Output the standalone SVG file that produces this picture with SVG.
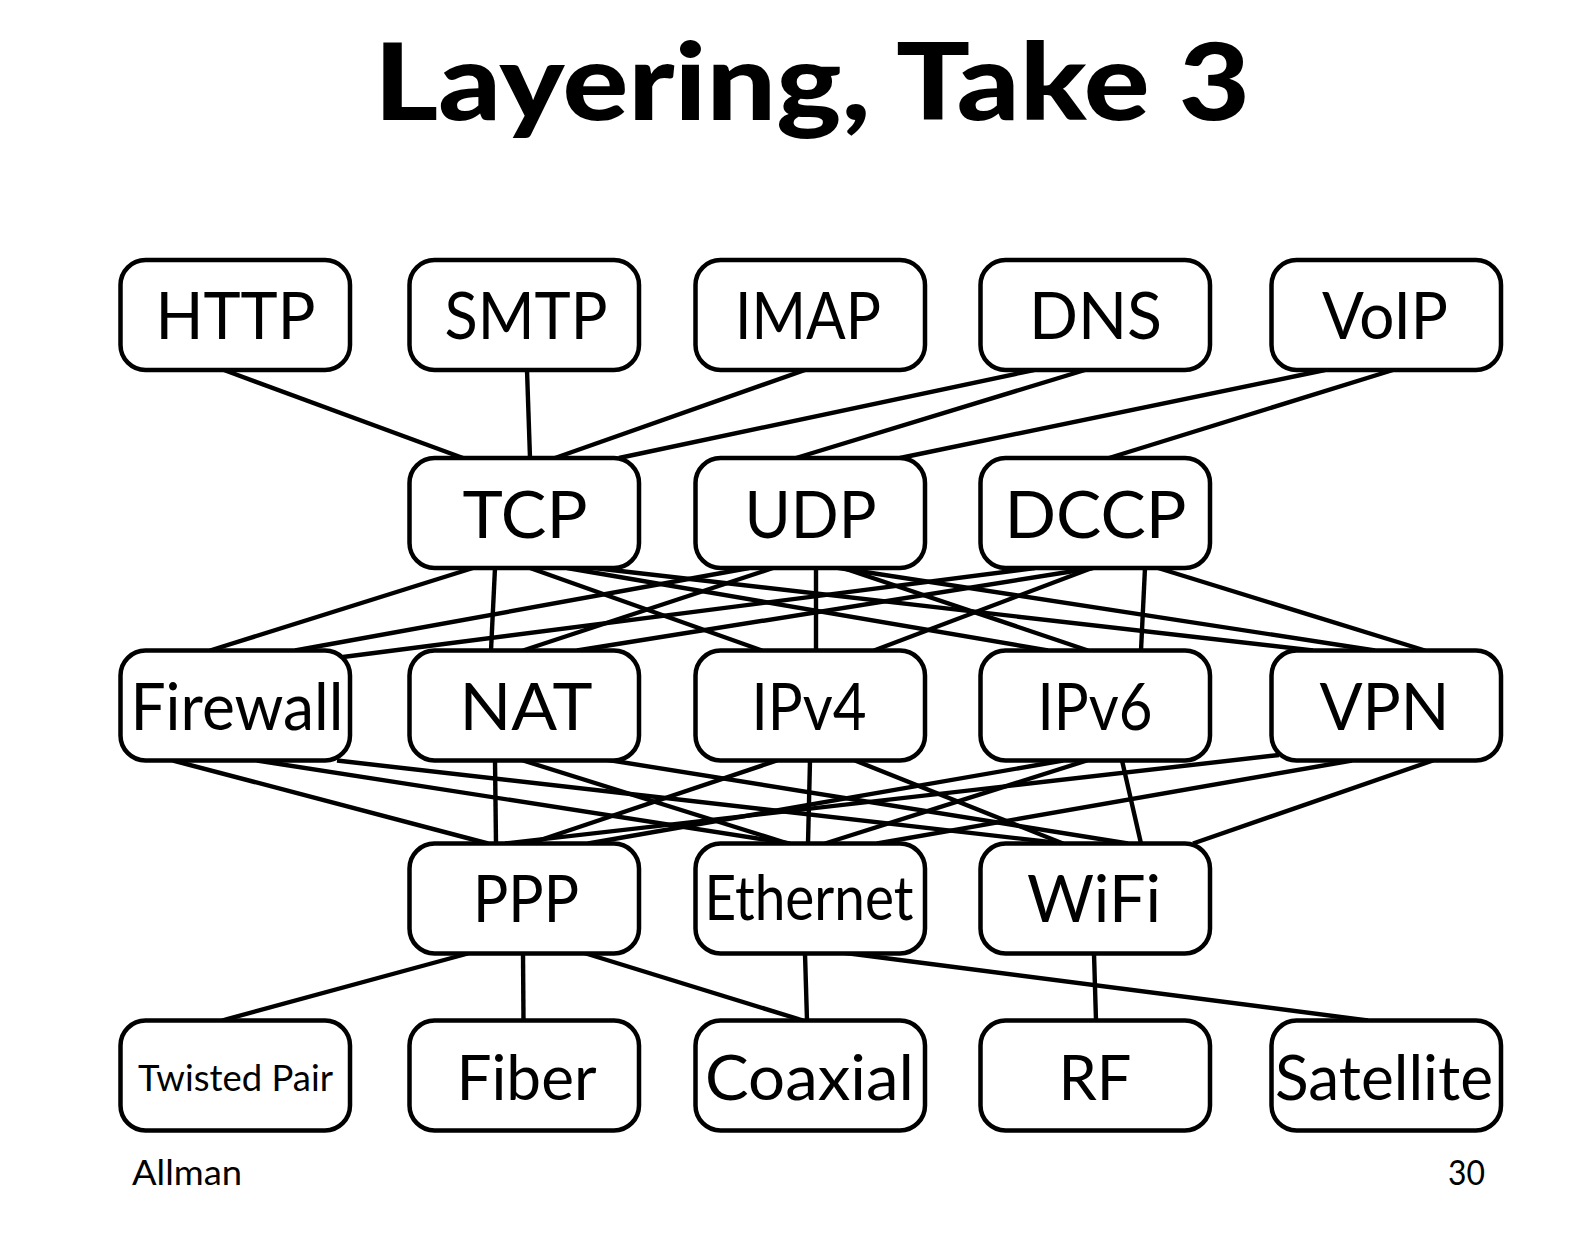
<svg xmlns="http://www.w3.org/2000/svg" width="1584" height="1238" viewBox="0 0 1584 1238">
<style>
  .box { fill: #ffffff; stroke: #000000; stroke-width: 4.5; }
  .lbl { font-family: Lato, "Open Sans", "Liberation Sans", sans-serif; font-size: 66px; fill: #000; text-anchor: middle; }
  .conn line { stroke: #000000; stroke-width: 4.4; stroke-linecap: butt; }
  .title { font-family: Lato, "Liberation Sans", sans-serif; font-weight: 900; font-size: 106px; fill: #000; }
  .foot { font-family: Lato, "Liberation Sans", sans-serif; font-size: 35px; fill: #000; }
</style>
<rect x="0" y="0" width="1584" height="1238" fill="#ffffff"/>
<text class="title" x="374" y="120" textLength="876" lengthAdjust="spacingAndGlyphs">Layering, Take 3</text>

<g id="connectors" class="conn">
  <!-- application to transport -->
  <line x1="224" y1="370" x2="463" y2="458"/>
  <line x1="527" y1="370" x2="530" y2="458"/>
  <line x1="805" y1="370" x2="555" y2="458"/>
  <line x1="1034" y1="370" x2="619" y2="458"/>
  <line x1="1085" y1="370" x2="796" y2="458"/>
  <line x1="1325" y1="370" x2="900" y2="458"/>
  <line x1="1393" y1="370" x2="1109" y2="458"/>
  <!-- transport to network -->
  <line x1="473" y1="568" x2="210" y2="650.5"/>
  <line x1="495" y1="568" x2="491" y2="650.5"/>
  <line x1="530" y1="568" x2="762" y2="650.5"/>
  <line x1="567" y1="568" x2="1048" y2="650.5"/>
  <line x1="594" y1="568" x2="1313" y2="650.5"/>
  <line x1="749" y1="568" x2="295" y2="650.5"/>
  <line x1="773" y1="568" x2="523" y2="650.5"/>
  <line x1="816" y1="568" x2="816" y2="650.5"/>
  <line x1="843" y1="568" x2="1088" y2="650.5"/>
  <line x1="826" y1="566" x2="1375" y2="650.5"/>
  <line x1="1035" y1="568" x2="343" y2="657"/>
  <line x1="1093" y1="568" x2="577" y2="650.5"/>
  <line x1="1092" y1="568" x2="874" y2="650.5"/>
  <line x1="1145" y1="568" x2="1141" y2="650.5"/>
  <line x1="1158" y1="568" x2="1425" y2="650.5"/>
  <!-- network to link -->
  <line x1="173" y1="760.5" x2="488" y2="843.5"/>
  <line x1="257" y1="760.5" x2="790" y2="843.5"/>
  <line x1="337" y1="760.5" x2="1063" y2="843.5"/>
  <line x1="495" y1="760.5" x2="496" y2="843.5"/>
  <line x1="523" y1="760.5" x2="788" y2="843.5"/>
  <line x1="602" y1="759" x2="1128" y2="843.5"/>
  <line x1="777" y1="760.5" x2="530" y2="843.5"/>
  <line x1="810" y1="760.5" x2="808" y2="843.5"/>
  <line x1="855" y1="760.5" x2="1063" y2="843.5"/>
  <line x1="1063" y1="760.5" x2="588" y2="843.5"/>
  <line x1="1087" y1="760.5" x2="825" y2="843.5"/>
  <line x1="1122" y1="760.5" x2="1141" y2="843.5"/>
  <line x1="1279" y1="755" x2="505" y2="843.5"/>
  <line x1="1352" y1="760.5" x2="877" y2="843.5"/>
  <line x1="1433" y1="760.5" x2="1193" y2="843.5"/>
  <!-- link to physical -->
  <line x1="468" y1="953.5" x2="222" y2="1020.5"/>
  <line x1="523" y1="953.5" x2="523.5" y2="1020.5"/>
  <line x1="581" y1="952" x2="803" y2="1020.5"/>
  <line x1="805" y1="953.5" x2="807" y2="1020.5"/>
  <line x1="838" y1="952" x2="1368" y2="1020.5"/>
  <line x1="1094" y1="953.5" x2="1096" y2="1020.5"/>
</g>

<g id="HTTP"><rect class="box" x="120.5" y="260" width="229.5" height="110" rx="25"/><text class="lbl" x="235.5" y="339" textLength="160" lengthAdjust="spacingAndGlyphs">HTTP</text></g>
<g id="SMTP"><rect class="box" x="409.5" y="260" width="229.5" height="110" rx="25"/><text class="lbl" x="526" y="339" textLength="163" lengthAdjust="spacingAndGlyphs">SMTP</text></g>
<g id="IMAP"><rect class="box" x="695.5" y="260" width="229.5" height="110" rx="25"/><text class="lbl" x="808" y="339" textLength="146" lengthAdjust="spacingAndGlyphs">IMAP</text></g>
<g id="DNS"><rect class="box" x="980.5" y="260" width="229.5" height="110" rx="25"/><text class="lbl" x="1095.5" y="339" textLength="133" lengthAdjust="spacingAndGlyphs">DNS</text></g>
<g id="VoIP"><rect class="box" x="1271.5" y="260" width="229.5" height="110" rx="25"/><text class="lbl" x="1385" y="339" textLength="126" lengthAdjust="spacingAndGlyphs">VoIP</text></g>

<g id="TCP"><rect class="box" x="409.5" y="458" width="229.5" height="110" rx="25"/><text class="lbl" x="525" y="538" textLength="125" lengthAdjust="spacingAndGlyphs">TCP</text></g>
<g id="UDP"><rect class="box" x="695.5" y="458" width="229.5" height="110" rx="25"/><text class="lbl" x="810.5" y="538" textLength="132" lengthAdjust="spacingAndGlyphs">UDP</text></g>
<g id="DCCP"><rect class="box" x="980.5" y="458" width="229.5" height="110" rx="25"/><text class="lbl" x="1095.5" y="538" textLength="182" lengthAdjust="spacingAndGlyphs">DCCP</text></g>

<g id="Firewall"><rect class="box" x="120.5" y="650.5" width="229.5" height="110" rx="25"/><text class="lbl" x="237" y="730" textLength="213" lengthAdjust="spacingAndGlyphs">Firewall</text></g>
<g id="NAT"><rect class="box" x="409.5" y="650.5" width="229.5" height="110" rx="25"/><text class="lbl" x="526" y="730" textLength="133" lengthAdjust="spacingAndGlyphs">NAT</text></g>
<g id="IPv4"><rect class="box" x="695.5" y="650.5" width="229.5" height="110" rx="25"/><text class="lbl" x="809" y="730" textLength="115" lengthAdjust="spacingAndGlyphs">IPv4</text></g>
<g id="IPv6"><rect class="box" x="980.5" y="650.5" width="229.5" height="110" rx="25"/><text class="lbl" x="1095" y="730" textLength="115" lengthAdjust="spacingAndGlyphs">IPv6</text></g>
<g id="VPN"><rect class="box" x="1271.5" y="650.5" width="229.5" height="110" rx="25"/><text class="lbl" x="1384.5" y="730" textLength="130" lengthAdjust="spacingAndGlyphs">VPN</text></g>

<g id="PPP"><rect class="box" x="409.5" y="843.5" width="229.5" height="110" rx="25"/><text class="lbl" x="526" y="922" textLength="106" lengthAdjust="spacingAndGlyphs">PPP</text></g>
<g id="Ethernet"><rect class="box" x="695.5" y="843.5" width="229.5" height="110" rx="25"/><text class="lbl" x="809" y="920" style="font-size:61px" textLength="209" lengthAdjust="spacingAndGlyphs">Ethernet</text></g>
<g id="WiFi"><rect class="box" x="980.5" y="843.5" width="229.5" height="110" rx="25"/><text class="lbl" x="1094" y="922" textLength="134" lengthAdjust="spacingAndGlyphs">WiFi</text></g>

<g id="TwistedPair"><rect class="box" x="120.5" y="1020.5" width="229.5" height="110" rx="25"/><text class="lbl" x="235.5" y="1091" style="font-size:37px" textLength="195" lengthAdjust="spacingAndGlyphs">Twisted Pair</text></g>
<g id="Fiber"><rect class="box" x="409.5" y="1020.5" width="229.5" height="110" rx="25"/><text class="lbl" x="526.5" y="1100" style="font-size:62px" textLength="140" lengthAdjust="spacingAndGlyphs">Fiber</text></g>
<g id="Coaxial"><rect class="box" x="695.5" y="1020.5" width="229.5" height="110" rx="25"/><text class="lbl" x="809.5" y="1100" style="font-size:62px" textLength="209" lengthAdjust="spacingAndGlyphs">Coaxial</text></g>
<g id="RF"><rect class="box" x="980.5" y="1020.5" width="229.5" height="110" rx="25"/><text class="lbl" x="1095" y="1100" style="font-size:62px" textLength="73" lengthAdjust="spacingAndGlyphs">RF</text></g>
<g id="Satellite"><rect class="box" x="1271.5" y="1020.5" width="229.5" height="110" rx="25"/><text class="lbl" x="1384" y="1100" style="font-size:62px" textLength="218" lengthAdjust="spacingAndGlyphs">Satellite</text></g>

<text class="foot" x="132" y="1185" textLength="110" lengthAdjust="spacingAndGlyphs">Allman</text>
<text class="foot" x="1485" y="1185" text-anchor="end" textLength="37" lengthAdjust="spacingAndGlyphs">30</text>
</svg>
